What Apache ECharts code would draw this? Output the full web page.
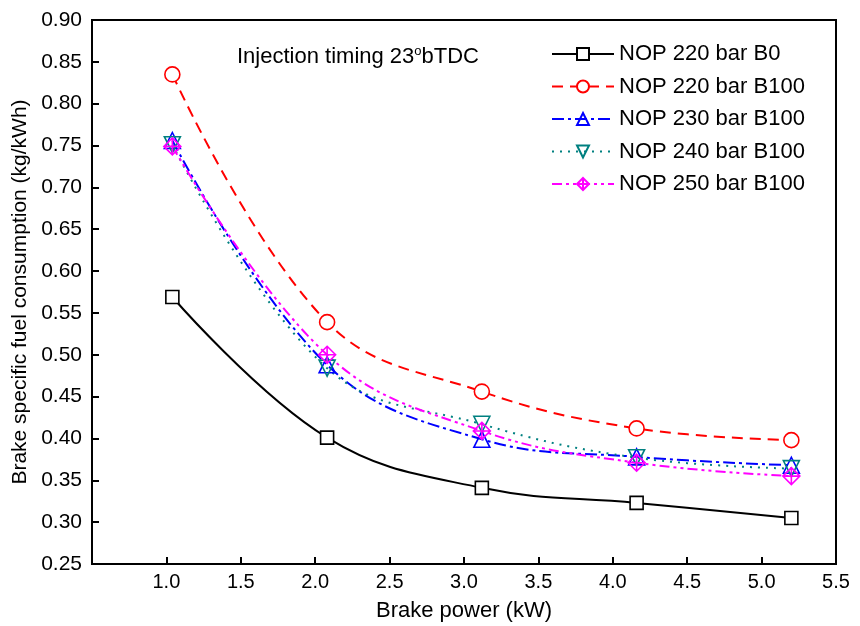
<!DOCTYPE html>
<html>
<head>
<meta charset="utf-8">
<script src="https://cdn.jsdelivr.net/npm/echarts@6/dist/echarts.min.js"></script>
<style>html,body{margin:0;padding:0;background:#fff;}#c{width:860px;height:626px;}</style>
</head>
<body>
<div id="c"></div>
<script>
const brakePower = [1.04, 2.08, 3.12, 4.16, 5.20];
const nop220B0   = [0.569, 0.401, 0.341, 0.323, 0.305];
const nop220B100 = [0.835, 0.539, 0.456, 0.412, 0.398];
const nop230B100 = [0.756, 0.488, 0.399, 0.378, 0.368];
const nop240B100 = [0.751, 0.484, 0.417, 0.377, 0.364];
const nop250B100 = [0.749, 0.500, 0.409, 0.371, 0.355];
const seriesNames = ['NOP 220 bar B0','NOP 220 bar B100','NOP 230 bar B100','NOP 240 bar B100','NOP 250 bar B100'];

const FONT = '"Liberation Sans", Arial, sans-serif';
const pairs = ys => brakePower.map((x,i)=>[x, ys[i]]);
const diamondCross = 'path://M0,-10L10,0L0,10L-10,0ZM0,-10L0,10M-10,0L10,0';

function mk(name, ys, color, dash, symbol, size, fill, rotate){
  return {
    name, type:'line', data: pairs(ys), smooth:0.4,
    symbol, symbolSize:size, symbolRotate: rotate||0, showAllSymbol:true,
    lineStyle:{color, width:2, type: dash},
    itemStyle:{color: fill, borderColor: color, borderWidth:1.6},
    emphasis:{disabled:true}
  };
}

const chart = echarts.init(document.getElementById('c'), null, {renderer:'canvas'});
chart.setOption({
  backgroundColor:'#fff',
  animation:false,
  grid:{left:92, right:24, top:20, bottom:62, outerBoundsMode:'none', containLabel:false,
    show:true, borderColor:'#000', borderWidth:2, backgroundColor:'transparent'},
  xAxis:{
    type:'value', min:0.5, max:5.5, interval:0.5,
    name:'Brake power (kW)', nameLocation:'middle', nameGap:36,
    nameTextStyle:{fontFamily:FONT, fontSize:22, color:'#000'},
    axisLine:{show:true, lineStyle:{color:'#000', width:2}},
    axisTick:{show:true, inside:true, length:7, lineStyle:{color:'#000', width:2}},
    axisLabel:{fontFamily:FONT, fontSize:20, color:'#000', margin:8, showMinLabel:false,
      formatter:v=>v.toFixed(1)},
    splitLine:{show:false}
  },
  yAxis:{
    type:'value', min:0.25, max:0.90, interval:0.05,
    name:'Brake specific fuel consumption (kg/kWh)', nameLocation:'middle', nameGap:60,
    nameTextStyle:{fontFamily:FONT, fontSize:21, color:'#000'},
    axisLine:{show:true, lineStyle:{color:'#000', width:2}},
    axisTick:{show:true, inside:true, length:7, lineStyle:{color:'#000', width:2}},
    axisLabel:{fontFamily:FONT, fontSize:21, color:'#000', margin:10, formatter:v=>v.toFixed(2)},
    splitLine:{show:false}
  },
  legend:{
    orient:'vertical', left:546, top:38, itemWidth:62, itemHeight:15, itemGap:10.5,
    textStyle:{fontFamily:FONT, fontSize:22, lineHeight:22, color:'#000'},
    data: seriesNames
  },
  graphic:[{
    type:'text', left:237, top:45,
    style:{
      text:'Injection timing 23{s|o}bTDC',
      font:'22px "Liberation Sans", Arial, sans-serif', fill:'#000',
      rich:{s:{fontSize:13, verticalAlign:'top', padding:[0,0,10,0], fontFamily:FONT, fill:'#000'}}
    }
  }],
  series:[
    mk(seriesNames[0], nop220B0, '#000000', 'solid', 'rect', 13, '#fff'),
    mk(seriesNames[1], nop220B100, '#ff0000', [11,7], 'circle', 15, '#fff'),
    mk(seriesNames[2], nop230B100, '#0000ff', [12,4,3,4], 'triangle', 16, 'rgba(255,255,255,0)'),
    mk(seriesNames[3], nop240B100, '#008080', [2,6], 'triangle', 16, 'rgba(255,255,255,0)', 180),
    mk(seriesNames[4], nop250B100, '#ff00ff', [10,4,3,4,3,4], diamondCross, 17, 'rgba(255,255,255,0)')
  ]
});
</script>
</body>
</html>
